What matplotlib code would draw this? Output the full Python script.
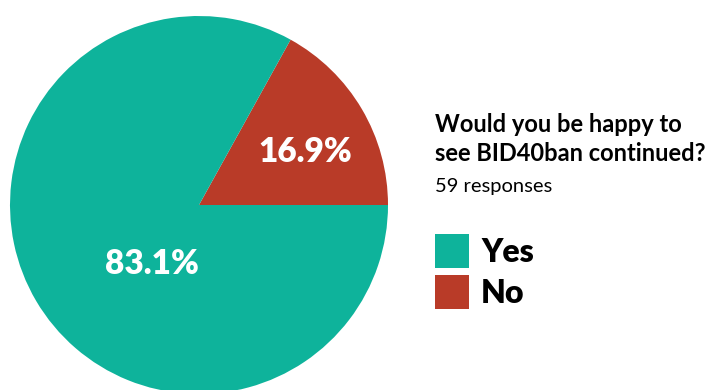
import matplotlib
matplotlib.use("Agg")
import matplotlib.pyplot as plt
from matplotlib.patches import Rectangle

plt.rcParams['font.family'] = ['Lato', 'DejaVu Sans']

labels = ['No', 'Yes']
counts = [10, 49]
colors = ['#B93B28', '#0EB39B']
title = 'Would you be happy to\nsee BID40ban continued?'
subtitle = '59 responses'

W, H = 716, 390
fig = plt.figure(figsize=(W / 100, H / 100), dpi=100)

# pie axes: centre (199, 205) px, radius 189 px
cx, cy, r = 199, 205, 189
ax = fig.add_axes([(cx - r) / W, (H - cy - r) / H, 2 * r / W, 2 * r / H])
wedges, _ = ax.pie(counts, colors=colors, startangle=0, counterclock=True,
                   radius=1, wedgeprops=dict(linewidth=0))
ax.set_xlim(-1, 1)
ax.set_ylim(-1, 1)
ax.set_aspect('equal')
ax.axis('off')
for w in wedges:
    w.set_clip_on(False)

total = sum(counts)
pct = [c / total * 100 for c in counts]
# label positions in pixels
fig.text(305 / W, 1 - 152 / H, f'{pct[0]:.1f}%', color='white', fontsize=24,
         fontweight='heavy', ha='center', va='center')
fig.text(152 / W, 1 - 264 / H, f'{pct[1]:.1f}%', color='white', fontsize=24,
         fontweight='heavy', ha='center', va='center')

fig.text(435 / W, 1 - 132 / H, title.split('\n')[0], fontsize=17, fontweight='bold',
         ha='left', va='baseline')
fig.text(435 / W, 1 - 161 / H, title.split('\n')[1], fontsize=17, fontweight='bold',
         ha='left', va='baseline')
fig.text(435 / W, 1 - 192 / H, subtitle, fontsize=14.5, ha='left', va='baseline')

# legend (Yes first)
for i, (lab, col) in enumerate([(labels[1], colors[1]), (labels[0], colors[0])]):
    top = 234 + i * 41
    fig.add_artist(Rectangle((435 / W, 1 - (top + 34) / H), 34 / W, 34 / H,
                             transform=fig.transFigure, color=col, lw=0))
    fig.text(481 / W, 1 - (top + 28) / H, lab, fontsize=23, fontweight='heavy',
             ha='left', va='baseline')

fig.savefig('out.png', dpi=100)
